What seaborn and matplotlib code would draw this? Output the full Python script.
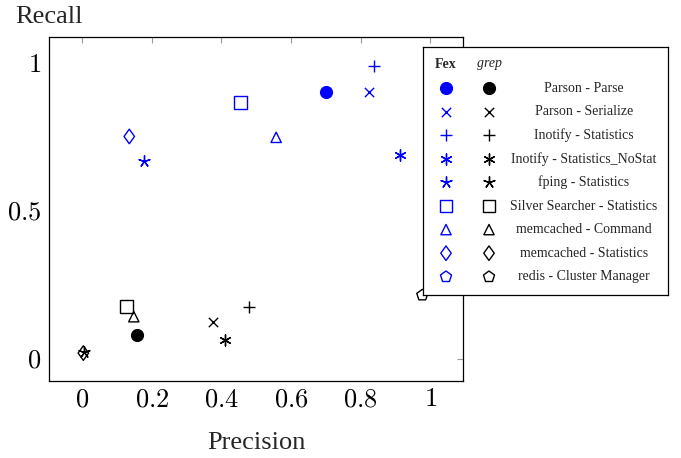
import matplotlib
matplotlib.use("Agg")
import matplotlib.pyplot as plt
import seaborn as sns
import pandas as pd
from matplotlib.path import Path

# ---- data ----
benchmarks = ["Parson - Parse", "Parson - Serialize", "Inotify - Statistics",
              "Inotify - Statistics_NoStat", "fping - Statistics",
              "Silver Searcher - Statistics", "memcached - Command",
              "memcached - Statistics", "redis - Cluster Manager"]
fex_precision = [0.701, 0.825, 0.839, 0.914, 0.178, 0.454, 0.557, 0.135, 1.0]
fex_recall = [0.905, 0.905, 0.990, 0.689, 0.669, 0.868, 0.750, 0.753, 0.500]
grep_precision = [0.157, 0.375, 0.480, 0.410, 0.004, 0.128, 0.148, 0.003, 0.977]
grep_recall = [0.081, 0.126, 0.177, 0.063, 0.022, 0.177, 0.143, 0.020, 0.216]
tools = ["Fex", "grep"]
x_ticks = [0, 0.2, 0.4, 0.6, 0.8, 1]
y_ticks = [0, 0.5, 1]

# ---- styles ----
diamond = Path([(0, 1), (0.72, 0), (0, -1), (-0.72, 0), (0, 1)],
               [Path.MOVETO, Path.LINETO, Path.LINETO, Path.LINETO, Path.CLOSEPOLY])
markers = ["o", "x", "+", (6, 2, 0), (5, 2, 0), "s", "^", diamond, "p"]
filled = [True, False, False, False, False, False, False, False, False]
line_marker = [False, True, True, True, True, False, False, False, False]
tool_colors = {"Fex": (0, 0, 1), "grep": (0, 0, 0)}
sizes = [75, 45, 70, 65, 65, 85, 55, 110, 70]

rows = []
for i, b in enumerate(benchmarks):
    rows.append(dict(benchmark=b, tool="Fex", precision=fex_precision[i], recall=fex_recall[i], idx=i))
    rows.append(dict(benchmark=b, tool="grep", precision=grep_precision[i], recall=grep_recall[i], idx=i))
df = pd.DataFrame(rows)

sns.set_theme(style="white")
plt.rcParams["font.family"] = ["Liberation Serif", "DejaVu Serif"]
plt.rcParams["mathtext.fontset"] = "cm"

W, H = 681, 458
fig = plt.figure(figsize=(W / 100, H / 100), dpi=100)
ax = fig.add_axes([49.3 / W, (H - 381) / H, (463.3 - 49.3) / W, (381 - 37.3) / H])


def style_kw(i, col):
    if line_marker[i]:
        return dict(color=col, linewidth=1.0)
    if filled[i]:
        return dict(color=col, edgecolor=col, linewidth=0.8)
    return dict(facecolor="none", edgecolor=col, linewidth=1.0)


for tool in ["grep", "Fex"]:
    col = tool_colors[tool]
    for i, b in enumerate(benchmarks):
        sub = df[(df.tool == tool) & (df.idx == i)]
        sns.scatterplot(data=sub, x="precision", y="recall", marker=markers[i],
                        s=sizes[i], ax=ax, legend=False, zorder=3,
                        **style_kw(i, col))

ax.set_xlim(-0.0948, 1.0948)
ax.set_ylim(-0.0745, 1.0885)
ax.set_xticks(x_ticks)
ax.set_yticks(y_ticks)
fmt = lambda v: "$" + ("%g" % v) + "$"
ax.set_xticklabels([fmt(v) for v in x_ticks])
ax.set_yticklabels([fmt(v) for v in y_ticks])
ax.tick_params(axis="both", which="both", direction="in", length=4.5, width=0.8,
               color="0.6", top=True, right=True, labelsize=19, pad=6,
               labelcolor="black")
for sp in ax.spines.values():
    sp.set_color("black")
    sp.set_linewidth(0.9)
ax.set_xlabel("Precision", fontsize=19, va="baseline")
ax.xaxis.set_label_coords(0.5, -(449 - 381) / (381 - 37.3))
ax.set_ylabel("Recall", fontsize=19, rotation=0, ha="center", va="center")
ax.yaxis.set_label_coords(0.0, 1 + (37.3 - 17) / (381 - 37.3))

# ---- custom legend ----
lx0, ly0, lx1, ly1 = 423, 47.3, 668, 294.5
lw, lh = lx1 - lx0, ly1 - ly0
lax = fig.add_axes([lx0 / W, (H - ly1) / H, lw / W, lh / H])
lax.set_xlim(0, lw)
lax.set_ylim(lh, 0)
lax.set_xticks([])
lax.set_yticks([])
lax.set_facecolor("white")
for sp in lax.spines.values():
    sp.set_color("black")
    sp.set_linewidth(0.9)
col_fex, col_grep, col_text = 446 - lx0, 489 - lx0, 584 - lx0
lax.text(col_fex, 64 - ly0, "Fex", fontsize=10, fontweight="bold", ha="center", va="center")
lax.text(col_grep, 64 - ly0, "grep", fontsize=10, style="italic", ha="center", va="center")
for i, b in enumerate(benchmarks):
    yy = 88 - ly0 + 23.6 * i
    for tool, cx in (("Fex", col_fex), ("grep", col_grep)):
        lax.scatter([cx], [yy], marker=markers[i], s=sizes[i], **style_kw(i, tool_colors[tool]))
    lax.text(col_text, yy, b, fontsize=10, ha="center", va="center")

fig.savefig("out.png", dpi=100)
